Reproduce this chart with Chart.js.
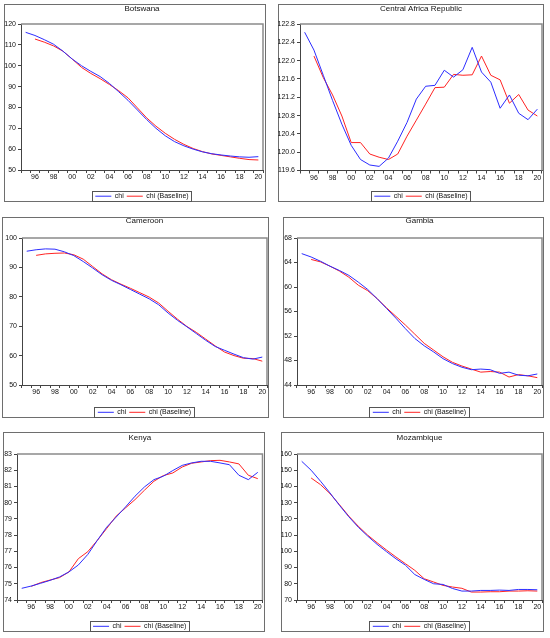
<!DOCTYPE html>
<html>
<head>
<meta charset="utf-8">
<script src="https://cdn.jsdelivr.net/npm/chart.js@4.4.1/dist/chart.umd.min.js"></script>
<style>
  body { margin: 0; background: #fff; width: 550px; height: 638px; position: relative; overflow: hidden; }
  canvas { position: absolute; }
</style>
</head>
<body>
<script>
"use strict";

const years = [1995, 1996, 1997, 1998, 1999, 2000, 2001, 2002, 2003, 2004, 2005, 2006, 2007,
               2008, 2009, 2010, 2011, 2012, 2013, 2014, 2015, 2016, 2017, 2018, 2019, 2020];
const seriesNames = ["chi", "chi (Baseline)"];

const botswanaChi  = [116.0, 114.5, 112.5, 110.3, 107.0, 103.2, 100.0, 97.3, 94.8, 91.5, 87.5, 83.4, 78.8,
                      74.2, 70.0, 66.4, 63.6, 61.6, 60.0, 58.7, 57.8, 57.2, 56.7, 56.3, 56.1, 56.4];
const botswanaBase = [null, 112.8, 111.3, 109.5, 107.0, 103.2, 99.2, 96.3, 93.8, 91.0, 88.0, 84.6, 79.8,
                      75.0, 71.0, 67.6, 64.7, 62.3, 60.3, 58.8, 57.7, 57.0, 56.3, 55.6, 55.0, 54.8];
const botswanaTicks = [50, 60, 70, 80, 90, 100, 110, 120];

const carChi  = [122.62, 122.23, 121.68, 121.13, 120.61, 120.15, 119.84, 119.72, 119.69, 119.87, 120.24, 120.65, 121.16,
                 121.44, 121.46, 121.79, 121.64, 121.80, 122.29, 121.75, 121.53, 120.96, 121.25, 120.85, 120.71, 120.94];
const carBase = [null, 122.10, 121.63, 121.25, 120.79, 120.21, 120.21, 119.96, 119.89, 119.84, 119.96, 120.35, 120.70,
                 121.05, 121.41, 121.42, 121.70, 121.68, 121.69, 122.10, 121.68, 121.58, 121.07, 121.26, 120.92, 120.79];
const carTicks = [119.6, 120.0, 120.4, 120.8, 121.2, 121.6, 122.0, 122.4, 122.8];

const cameroonChi  = [95.5, 96.0, 96.3, 96.2, 95.3, 94.0, 92.0, 89.8, 87.5, 85.6, 84.1, 82.5, 80.9,
                      79.3, 77.3, 74.5, 72.0, 69.8, 67.5, 65.2, 63.1, 61.8, 60.5, 59.3, 58.8, 59.5];
const cameroonBase = [null, 94.1, 94.6, 94.8, 94.9, 94.3, 92.8, 90.3, 87.8, 85.8, 84.3, 82.9, 81.4,
                      79.9, 77.9, 75.1, 72.4, 69.9, 67.9, 65.6, 63.3, 61.2, 60.0, 59.1, 59.0, 58.1];
const cameroonTicks = [50, 60, 70, 80, 90, 100];

const gambiaChi  = [65.45, 64.9, 64.2, 63.4, 62.7, 61.9, 60.8, 59.6, 58.1, 56.5, 54.9, 53.2, 51.6,
                    50.4, 49.4, 48.3, 47.5, 46.9, 46.5, 46.6, 46.5, 45.9, 46.1, 45.6, 45.5, 45.8];
const gambiaBase = [null, 64.5, 64.1, 63.4, 62.6, 61.6, 60.3, 59.4, 58.1, 56.6, 55.2, 53.8, 52.3,
                    50.8, 49.7, 48.6, 47.7, 47.1, 46.6, 46.1, 46.2, 46.1, 45.3, 45.7, 45.5, 45.2];
const gambiaTicks = [44, 48, 52, 56, 60, 64, 68];

const kenyaChi  = [74.72, 74.86, 75.03, 75.21, 75.42, 75.73, 76.16, 76.81, 77.67, 78.49, 79.11, 79.74, 80.40,
                   80.97, 81.42, 81.63, 81.98, 82.30, 82.45, 82.55, 82.55, 82.45, 82.34, 81.69, 81.42, 81.87];
const kenyaBase = [null, 74.84, 75.07, 75.23, 75.38, 75.73, 76.55, 76.98, 77.67, 78.41, 79.17, 79.68, 80.19,
                   80.77, 81.32, 81.67, 81.83, 82.20, 82.43, 82.51, 82.59, 82.61, 82.51, 82.39, 81.69, 81.48];
const kenyaTicks = [74, 75, 76, 77, 78, 79, 80, 81, 82, 83];

const mozambiqueChi  = [155.5, 150.0, 143.2, 136.0, 128.4, 121.3, 114.9, 109.4, 104.3, 99.8, 95.4, 91.5, 85.7,
                        82.7, 80.0, 79.6, 77.1, 75.5, 75.5, 75.9, 75.9, 76.1, 75.9, 76.5, 76.5, 76.3];
const mozambiqueBase = [null, 145.2, 141.1, 135.6, 128.8, 121.7, 115.5, 110.0, 105.3, 100.8, 96.5, 92.4, 88.3,
                        83.1, 81.1, 79.0, 78.0, 77.2, 74.9, 74.9, 75.1, 75.1, 75.5, 75.5, 75.7, 75.5];
const mozambiqueTicks = [70, 80, 90, 100, 110, 120, 130, 140, 150, 160];

// page layout: outer frame and plot area of each panel [left, top, right, bottom]
const frames = [[4, 4, 266, 202], [278, 4, 544, 202], [2, 217, 269, 418],
                [283, 217, 544, 418], [3, 432, 265, 632], [281, 432, 544, 632]];
const plots = [[21, 24, 263, 170], [300, 24, 542, 170.5], [22, 238, 267, 385],
               [297, 238, 542, 385], [17, 454, 262.5, 600], [297, 454, 542, 600]];
const titleMid = [9, 9, 221, 221, 438, 438];
const legendMid = [196.2, 196.2, 412.3, 412.3, 626.3, 626.3];

const BLUE = "rgb(45,45,255)";
const RED = "rgb(255,35,35)";
const FONT = "'Liberation Sans', Arial, sans-serif";
const LEG_PAD = 3;

const framePlugin = {
    id: 'frame',
    beforeDraw(chart) {
        const ctx = chart.ctx;
        ctx.save();
        ctx.fillStyle = '#fff';
        ctx.fillRect(0, 0, chart.width, chart.height);
        ctx.strokeStyle = '#6e6e6e';
        ctx.lineWidth = 1;
        ctx.strokeRect(0.5, 0.5, chart.width - 1, chart.height - 1);
        ctx.restore();
    },
    afterDraw(chart) {
        const ctx = chart.ctx;
        const a = chart.chartArea;
        ctx.save();
        ctx.strokeStyle = '#8a8a8a';
        ctx.lineWidth = 1.5;
        ctx.beginPath();
        ctx.moveTo(a.left, a.top);
        ctx.lineTo(a.right, a.top);
        ctx.lineTo(a.right, a.bottom);
        ctx.stroke();

        // box around the legend, sitting on the bottom of the frame
        const hb = chart.legend.legendHitBoxes;
        if (hb && hb.length) {
            const last = hb[hb.length - 1];
            const l = Math.round(hb[0].left - 3.5) + 0.5;
            const r = Math.round(last.left + last.width + 2.5) + 0.5;
            const t = Math.round(hb[0].top + 3.5 - 5.5) + 0.5;
            ctx.strokeStyle = '#555';
            ctx.lineWidth = 1;
            ctx.strokeRect(l, t, r - l, chart.height - 0.5 - t);
        }
        ctx.restore();
    }
};

function makePanel(i, title, chi, base, ticks, decimals) {
    const [fl, ft, fr, fb] = frames[i];
    const [pl, pt, pr, pb] = plots[i];
    const W = fr - fl, H = fb - ft;
    const canvas = document.createElement('canvas');
    canvas.width = W;
    canvas.height = H;
    canvas.style.left = fl + 'px';
    canvas.style.top = ft + 'px';
    document.body.appendChild(canvas);

    const top = pt - ft, bottom = pb - ft;
    const tMid = titleMid[i] - ft;
    const lMid = legendMid[i] - ft;
    const padB = H - lMid - 13.5;
    const legendTop = lMid - 3.5 - LEG_PAD;

    new Chart(canvas, {
        type: 'line',
        data: {
            datasets: [{
                label: seriesNames[0],
                data: years.map((y, k) => ({x: y, y: chi[k]})),
                borderColor: BLUE,
                backgroundColor: BLUE,
                borderWidth: 1,
                pointRadius: 0
            }, {
                label: seriesNames[1],
                data: years.map((y, k) => ({x: y, y: base[k]})),
                borderColor: RED,
                backgroundColor: RED,
                borderWidth: 1,
                pointRadius: 0
            }]
        },
        options: {
            responsive: false,
            animation: false,
            devicePixelRatio: 1,
            events: [],
            layout: { padding: { left: 0, top: 0, right: W - (pr - fl), bottom: padB } },
            plugins: {
                title: {
                    display: true,
                    text: title,
                    fullSize: false,
                    color: '#111',
                    font: { family: FONT, size: 8, weight: 'normal', lineHeight: 1 },
                    padding: { top: tMid - 4, bottom: top - tMid - 4 }
                },
                legend: {
                    position: 'bottom',
                    fullSize: false,
                    labels: {
                        usePointStyle: true,
                        pointStyle: 'line',
                        pointStyleWidth: 16,
                        padding: LEG_PAD,
                        color: '#111',
                        font: { family: FONT, size: 7, lineHeight: 1 }
                    }
                },
                tooltip: { enabled: false }
            },
            scales: {
                x: {
                    type: 'linear',
                    min: 1994.5,
                    max: 2020.5,
                    afterBuildTicks: s => { s.ticks = years.map(v => ({value: v})); },
                    afterFit: s => { s.height = legendTop - bottom; },
                    ticks: {
                        autoSkip: false,
                        maxRotation: 0,
                        padding: 1,
                        color: '#111',
                        font: { family: FONT, size: 7, lineHeight: 1 },
                        callback: v => v % 2 === 0 ? String(v).slice(2) : ''
                    },
                    grid: { offset: true, drawOnChartArea: false, tickLength: 3, color: '#444' },
                    border: { color: '#444' }
                },
                y: {
                    min: ticks[0],
                    max: ticks[ticks.length - 1],
                    afterBuildTicks: s => { s.ticks = ticks.map(v => ({value: v})); },
                    afterFit: s => { s.width = pl - fl; },
                    ticks: {
                        padding: 2,
                        color: '#111',
                        font: { family: FONT, size: 7, lineHeight: 1 },
                        callback: v => v.toFixed(decimals)
                    },
                    grid: { drawOnChartArea: false, tickLength: 3, color: '#444' },
                    border: { color: '#444' }
                }
            }
        },
        plugins: [framePlugin]
    });
}

makePanel(0, "Botswana", botswanaChi, botswanaBase, botswanaTicks, 0);
makePanel(1, "Central Africa Republic", carChi, carBase, carTicks, 1);
makePanel(2, "Cameroon", cameroonChi, cameroonBase, cameroonTicks, 0);
makePanel(3, "Gambia", gambiaChi, gambiaBase, gambiaTicks, 0);
makePanel(4, "Kenya", kenyaChi, kenyaBase, kenyaTicks, 0);
makePanel(5, "Mozambique", mozambiqueChi, mozambiqueBase, mozambiqueTicks, 0);
</script>
</body>
</html>
